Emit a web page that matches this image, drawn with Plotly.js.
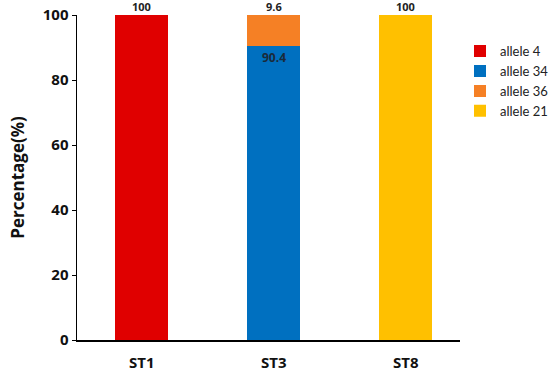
<!DOCTYPE html>
<html>
<head>
<meta charset="utf-8">
<script src="https://cdn.plot.ly/plotly-3.0.1.min.js"></script>
<style>html,body{margin:0;padding:0;background:#fff;}#chart{width:550px;height:376px;}</style>
</head>
<body>
<div id="chart"></div>
<script>
const categories = ["ST1", "ST3", "ST8"];
const seriesNames = ["allele 4", "allele 34", "allele 36", "allele 21"];
const allele4 = [100, 0, 0];
const allele34 = [0, 90.4, 0];
const allele36 = [0, 9.6, 0];
const allele21 = [0, 0, 100];
const colors = ["#E00000", "#0070C0", "#F58025", "#FFC000"];
const yTicks = [0, 20, 40, 60, 80, 100];

const seriesValues = [allele4, allele34, allele36, allele21];
const traces = seriesValues.map((vals, i) => ({
  type: "bar",
  name: seriesNames[i],
  x: categories,
  y: vals,
  width: 0.4,
  marker: {color: colors[i]},
  hoverinfo: "none"
}));

const annotations = [];
categories.forEach((c, ci) => {
  let cum = 0;
  const parts = [];
  seriesValues.forEach(vals => {
    if (vals[ci] > 0) { cum += vals[ci]; parts.push({v: vals[ci], top: cum}); }
  });
  parts.forEach((p, pi) => {
    const isTop = pi === parts.length - 1;
    annotations.push({
      x: c, y: p.top, xref: "x", yref: "y",
      text: String(p.v), showarrow: false,
      yanchor: isTop ? "bottom" : "top",
      yshift: isTop ? 0 : -2,
      borderpad: 0,
      font: {family: "Open Sans, sans-serif", size: isTop ? 11 : 12, color: isTop ? "#222" : "#1a2a3a", weight: "bold"}
    });
  });
});

const layout = {
  width: 550, height: 376,
  margin: {l: 77, r: 90, t: 15, b: 36, autoexpand: false},
  paper_bgcolor: "#fff", plot_bgcolor: "#fff",
  barmode: "stack",
  showlegend: true,
  legend: {x: 1.0, y: 0.935, xanchor: "left", yanchor: "top",
           font: {family: "Lato, sans-serif", size: 13, color: "#222"},
           itemwidth: 30, tracegroupgap: 0, traceorder: "normal"},
  xaxis: {range: [-0.49, 2.41], showline: true, linecolor: "#000", linewidth: 1.5,
          ticks: "outside", ticklen: 8, tickcolor: "rgba(0,0,0,0)", showgrid: false, zeroline: false,
          tickfont: {family: "Open Sans, sans-serif", size: 15, color: "#111", weight: "bold"}},
  yaxis: {range: [0, 100], tickvals: yTicks, showline: true, linecolor: "#000", linewidth: 1.5,
          ticks: "outside", ticklen: 4, tickcolor: "#000", showgrid: false, zeroline: false,
          tickfont: {family: "Open Sans, sans-serif", size: 15, color: "#111", weight: "bold"},
          title: {text: "Percentage(%)", standoff: 14,
                  font: {family: "Open Sans, sans-serif", size: 17, color: "#111", weight: "bold"}}},
  annotations: annotations
};

Plotly.newPlot("chart", traces, layout, {displayModeBar: false, staticPlot: true});
</script>
</body>
</html>
